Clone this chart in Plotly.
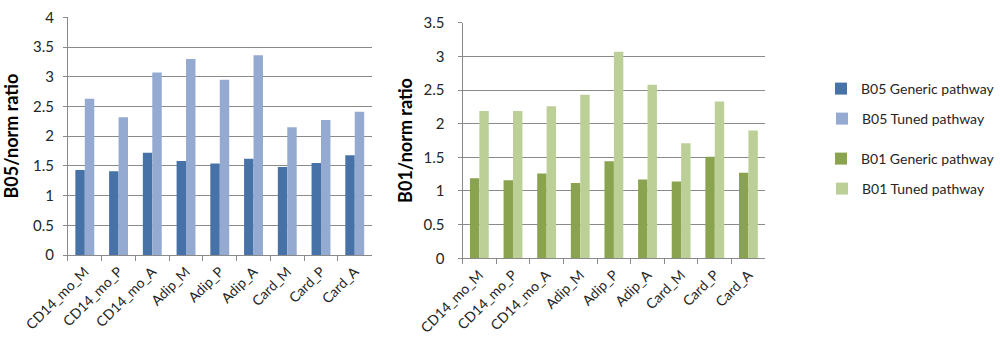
import plotly.graph_objects as go

categories = ["CD14_mo_M", "CD14_mo_P", "CD14_mo_A", "Adip_M", "Adip_P",
              "Adip_A", "Card_M", "Card_P", "Card_A"]

b05_generic = [1.43, 1.41, 1.72, 1.58, 1.54, 1.62, 1.48, 1.55, 1.68]
b05_tuned = [2.63, 2.32, 3.07, 3.30, 2.95, 3.36, 2.15, 2.27, 2.41]
b01_generic = [1.19, 1.16, 1.26, 1.12, 1.44, 1.17, 1.14, 1.51, 1.27]
b01_tuned = [2.19, 2.19, 2.26, 2.43, 3.07, 2.58, 1.71, 2.33, 1.90]

left_ticks = [0, 0.5, 1, 1.5, 2, 2.5, 3, 3.5, 4]
right_ticks = [0, 0.5, 1, 1.5, 2, 2.5, 3, 3.5]

C_B05_G = "#4672A8"
C_B05_T = "#95AAD0"
C_B01_G = "#8AA34E"
C_B01_T = "#BBCF97"

FONT = "Lato, 'Open Sans', sans-serif"
TXT = "#262626"
GRID = "#8A8A8A"

fig = go.Figure()
fig.add_trace(go.Bar(x=categories, y=b05_generic, name="B05 Generic pathway",
                     marker_color=C_B05_G, xaxis="x", yaxis="y", legend="legend"))
fig.add_trace(go.Bar(x=categories, y=b05_tuned, name="B05 Tuned pathway",
                     marker_color=C_B05_T, xaxis="x", yaxis="y", legend="legend2"))
fig.add_trace(go.Bar(x=categories, y=b01_generic, name="B01 Generic pathway",
                     marker_color=C_B01_G, xaxis="x2", yaxis="y2", legend="legend3"))
fig.add_trace(go.Bar(x=categories, y=b01_tuned, name="B01 Tuned pathway",
                     marker_color=C_B01_T, xaxis="x2", yaxis="y2", legend="legend4"))
for tr in fig.data:
    tr.marker.line.width = 0
    tr.showlegend = True

W, H = 1000, 354


def px_x(v):
    return v / W


def px_y(v):
    return 1 - v / H


xcommon = dict(type="category", showgrid=False, showline=True, linecolor=GRID,
               linewidth=1, ticks="outside", tickson="boundaries", ticklen=5,
               tickcolor=GRID, tickangle=-45, automargin=False,
               ticklabelstandoff=2,
               tickfont=dict(family=FONT, size=14, color=TXT))
ycommon = dict(showgrid=True, gridcolor=GRID, gridwidth=1, showline=True,
               linecolor=GRID, linewidth=1, ticks="outside", ticklen=4,
               tickcolor=GRID, zeroline=False, automargin=False,
               tickfont=dict(family=FONT, size=15, color=TXT))

legend_common = dict(bgcolor="rgba(0,0,0,0)", borderwidth=0, xanchor="left",
                     yanchor="middle", itemwidth=30,
                     font=dict(family=FONT, size=14, color=TXT))

fig.update_layout(
    width=W, height=H,
    margin=dict(l=0, r=0, t=0, b=0),
    paper_bgcolor="white", plot_bgcolor="white",
    showlegend=True,
    barmode="group", bargap=0.44, bargroupgap=0,
    font=dict(family=FONT, color=TXT),
    xaxis=dict(xcommon, domain=[px_x(68), px_x(372)], anchor="y"),
    yaxis=dict(ycommon, domain=[px_y(255), px_y(17.3)], anchor="x",
               range=[0, 4], tickvals=left_ticks, ticklabelstandoff=6,
               title=dict(text="<b>B05/norm ratio</b>", standoff=9,
                          font=dict(family=FONT, size=18, color="#000"))),
    xaxis2=dict(xcommon, domain=[px_x(463), px_x(766)], anchor="y2"),
    yaxis2=dict(ycommon, domain=[px_y(258.3), px_y(22.7)], anchor="x2",
                range=[0, 3.5], tickvals=right_ticks, ticklabelstandoff=10,
                title=dict(text="<b>B01/norm ratio</b>", standoff=6,
                           font=dict(family=FONT, size=18, color="#000"))),
    legend=dict(legend_common, x=px_x(822), y=px_y(89)),
    legend2=dict(legend_common, x=px_x(822), y=px_y(119)),
    legend3=dict(legend_common, x=px_x(822), y=px_y(159)),
    legend4=dict(legend_common, x=px_x(822), y=px_y(189)),
)

fig.write_html("out.html")
